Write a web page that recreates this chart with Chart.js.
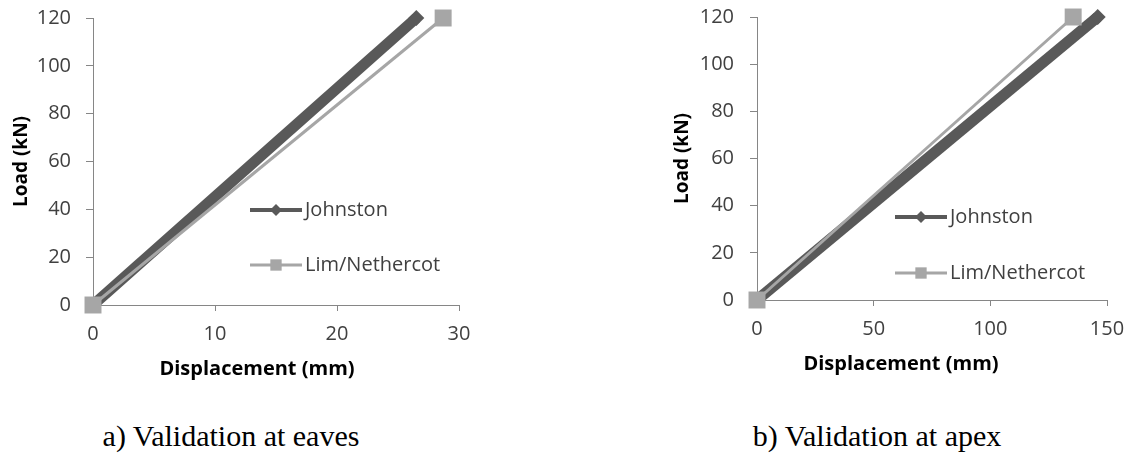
<!DOCTYPE html>
<html><head><meta charset="utf-8">
<script src="https://cdn.jsdelivr.net/npm/chart.js@4/dist/chart.umd.min.js"></script>
<style>
html,body{margin:0;padding:0;background:#fff;width:1130px;height:453px;overflow:hidden;position:relative}
canvas{position:absolute}
.cap{position:absolute;font-family:"Liberation Serif","Times New Roman",serif;font-size:30px;line-height:30px;color:#000;white-space:nowrap;transform:translateX(-50%)}
</style></head><body>
<canvas id="c1" width="514" height="400" style="left:0;top:0;width:514px;height:400px"></canvas>
<canvas id="c2" width="458" height="400" style="left:672px;top:0;width:458px;height:400px"></canvas>
<div class="cap" style="left:231px;top:421px">a) Validation at eaves</div>
<div class="cap" style="left:877px;top:421px">b) Validation at apex</div>
<script>
// ---- data ----
const seriesNames = ['Johnston', 'Lim/Nethercot'];
const eavesJohnstonX = [0, 26.5];
const eavesJohnstonY = [0, 120];
const eavesLimX = [0, 28.7];
const eavesLimY = [0, 120];
const apexJohnstonX = [0, 146];
const apexJohnstonY = [0, 120];
const apexLimX = [0, 135.5];
const apexLimY = [0, 120];
const eavesXTicks = [0, 10, 20, 30];
const apexXTicks = [0, 50, 100, 150];
const loadTicks = [0, 20, 40, 60, 80, 100, 120];
const xTitle = 'Displacement (mm)';
const yTitle = 'Load (kN)';

// ---- styling ----
const FONT = '"Open Sans", "Liberation Sans", sans-serif';
const AXIS = '#868686';
const TXT = '#404040';
const DARK = '#595959';
const LIGHT = '#A6A6A6';

function pts(xs, ys) { return xs.map((x, i) => ({ x: x, y: ys[i] })); }

function drawMarker(ctx, style, x, y, r) {
  ctx.beginPath();
  if (style === 'rectRot') {
    ctx.moveTo(x, y - r); ctx.lineTo(x + r, y); ctx.lineTo(x, y + r); ctx.lineTo(x - r, y);
  } else {
    const s = r * Math.SQRT1_2;
    ctx.rect(x - s, y - s, 2 * s, 2 * s);
  }
  ctx.closePath();
  ctx.fill();
}

const insideLegend = {
  id: 'insideLegend',
  afterDatasetsDraw(chart, args, o) {
    const ctx = chart.ctx;
    ctx.save();
    chart.data.datasets.forEach((ds, i) => {
      const y = o.y[i], x0 = o.x, x1 = o.x + o.len;
      ctx.strokeStyle = ds.borderColor;
      ctx.lineWidth = o.lineWidth[i];
      ctx.beginPath(); ctx.moveTo(x0, y); ctx.lineTo(x1, y); ctx.stroke();
      ctx.fillStyle = ds.pointBackgroundColor;
      drawMarker(ctx, ds.pointStyle, (x0 + x1) / 2, y, o.radius[i]);
      ctx.fillStyle = TXT;
      ctx.font = '20px ' + FONT;
      ctx.textBaseline = 'middle';
      ctx.textAlign = 'left';
      ctx.fillText(ds.label, x1 + o.gap, y);
    });
    ctx.restore();
  }
};

function zeroPad(s) { s.paddingTop = 0; s.paddingBottom = 0; s.paddingLeft = 0; s.paddingRight = 0; }

function makeChart(id, jx, jy, lx, ly, xTicks, cfg) {
  const xMax = xTicks[xTicks.length - 1];
  return new Chart(document.getElementById(id), {
    type: 'scatter',
    data: {
      datasets: [
        { label: seriesNames[0], data: pts(jx, jy), showLine: true, order: 1,
          borderColor: DARK, backgroundColor: DARK, borderWidth: 11,
          pointStyle: 'rectRot', pointRadius: 8, pointBackgroundColor: DARK,
          pointBorderColor: DARK, pointBorderWidth: 0, tension: 0, clip: false },
        { label: seriesNames[1], data: pts(lx, ly), showLine: true, order: 0,
          borderColor: LIGHT, backgroundColor: LIGHT, borderWidth: 3,
          pointStyle: 'rect', pointRadius: 12, pointBackgroundColor: LIGHT,
          pointBorderColor: LIGHT, pointBorderWidth: 0, tension: 0, clip: false }
      ]
    },
    options: {
      responsive: false, animation: false, devicePixelRatio: 1,
      layout: { padding: { top: cfg.top, right: 0, left: 0, bottom: 0 } },
      plugins: {
        legend: { display: false },
        tooltip: { enabled: false },
        title: { display: true, text: xTitle, position: 'bottom', color: '#000',
          font: { family: FONT, size: 20, weight: 'bold', lineHeight: 1 },
          padding: { top: 0, bottom: cfg.xTitleBottom } },
        insideLegend: cfg.legend
      },
      scales: {
        x: {
          type: 'linear', min: 0, max: xMax,
          afterBuildTicks: s => { s.ticks = xTicks.map(v => ({ value: v })); },
          ticks: { color: TXT, font: { family: FONT, size: 20 }, padding: cfg.xTickPad, maxRotation: 0 },
          grid: { drawOnChartArea: false, drawTicks: true, tickLength: 6, color: AXIS },
          border: { color: AXIS, width: 1 },
          afterFit: s => { s.height = cfg.xAxisH; zeroPad(s); }
        },
        y: {
          type: 'linear', min: 0, max: 120,
          afterBuildTicks: s => { s.ticks = loadTicks.map(v => ({ value: v })); },
          ticks: { color: TXT, font: { family: FONT, size: 20 }, padding: cfg.yTickPad },
          grid: { drawOnChartArea: false, drawTicks: true, tickLength: 7, color: AXIS },
          border: { color: AXIS, width: 1 },
          title: { display: true, text: yTitle, color: '#000',
            font: { family: FONT, size: 19, weight: 'bold', lineHeight: 1 },
            padding: { top: cfg.yTitlePad, bottom: 0 } },
          afterFit: s => { s.width = cfg.yAxisW; zeroPad(s); }
        },
        gap: {
          type: 'linear', position: 'right', display: true, min: 0, max: 120,
          ticks: { display: false }, grid: { display: false }, border: { display: false },
          afterFit: s => { s.width = cfg.rightGap; zeroPad(s); }
        }
      }
    },
    plugins: [insideLegend]
  });
}

makeChart('c1', eavesJohnstonX, eavesJohnstonY, eavesLimX, eavesLimY, eavesXTicks, {
  top: 18, rightGap: 55, xTitleBottom: 21, xAxisH: 54, xTickPad: 11, yTickPad: 15,
  yTitlePad: 12.5, yAxisW: 93,
  legend: { x: 250, len: 52, gap: 3, y: [210, 265], lineWidth: [4, 3], radius: [6, 8] }
});
makeChart('c2', apexJohnstonX, apexJohnstonY, apexLimX, apexLimY, apexXTicks, {
  top: 17, rightGap: 23, xTitleBottom: 26, xAxisH: 54, xTickPad: 11, yTickPad: 16,
  yTitlePad: 1.5, yAxisW: 85,
  legend: { x: 223, len: 52, gap: 3, y: [217, 273], lineWidth: [4, 3], radius: [6, 8] }
});
</script>
</body></html>
